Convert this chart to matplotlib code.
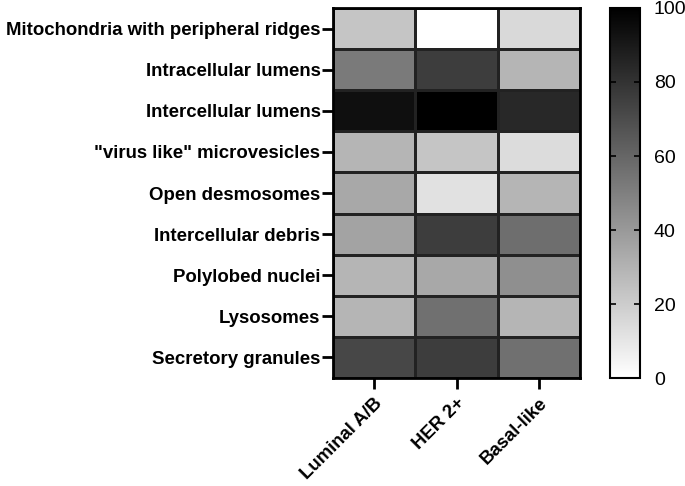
import numpy as np
import matplotlib
matplotlib.use("Agg")
import matplotlib.pyplot as plt
from matplotlib.colors import LinearSegmentedColormap

rows = ["Mitochondria with peripheral ridges", "Intracellular lumens", "Intercellular lumens",
        "\"virus like\" microvesicles", "Open desmosomes", "Intercellular debris",
        "Polylobed nuclei", "Lysosomes", "Secretory granules"]
cols = ["Luminal A/B", "HER 2+", "Basal-like"]
luminal = [23, 52, 94, 29, 34, 36, 29, 29, 72]
her2 = [0, 76, 100, 23, 12, 76, 34, 56, 76]
basal = [15, 29, 84, 14, 29, 57, 44, 29, 56]
cbar_ticks = [0, 20, 40, 60, 80, 100]

data = np.array([luminal, her2, basal]).T

plt.rcParams['font.family'] = ['Liberation Sans', 'DejaVu Sans']
fig = plt.figure(figsize=(6.85, 4.86), dpi=100)
ax = fig.add_axes([333/685, 1-378/486, 247/685, 370/486])
cax = fig.add_axes([610/685, 1-378/486, 30/685, 370/486])

cmap = LinearSegmentedColormap.from_list("wb", ["#ffffff", "#000000"])
m = ax.pcolormesh(data, cmap=cmap, vmin=0, vmax=100, edgecolors="#222222", linewidth=1.0)
ax.set_xlim(0, 3)
ax.set_ylim(9, 0)
ax.set_xticks(np.arange(3) + 0.5)
ax.set_xticklabels(cols, rotation=45, ha="right", rotation_mode="anchor", fontsize=13.4, fontweight="bold")
ax.set_yticks(np.arange(9) + 0.5)
ax.set_yticklabels(rows, fontsize=13.4, fontweight="bold")
ax.tick_params(axis="y", length=8, width=2, pad=1)
ax.tick_params(axis="x", length=8, width=2, pad=4)
for s in ax.spines.values():
    s.set_linewidth(2)

cb = fig.colorbar(m, cax=cax, ticks=cbar_ticks)
cb.outline.set_linewidth(1.5)
cax.tick_params(direction="in", left=True, right=True, length=4, width=1.2, labelsize=14, pad=10)

fig.savefig("out.png", dpi=100)
